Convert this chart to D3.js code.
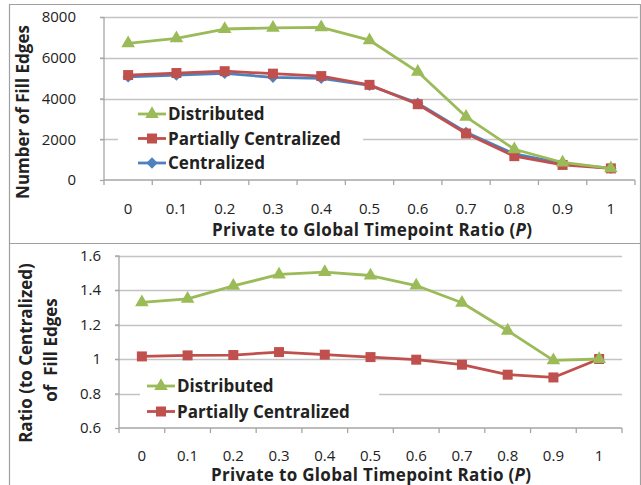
<!doctype html>
<html>
<head>
<meta charset="utf-8">
<script src="https://d3js.org/d3.v7.min.js"></script>
<style>
  body { margin: 0; background: #fff; }
  text { font-family: "Open Sans", sans-serif; fill: #222; }
</style>
</head>
<body>
<div id="chart"></div>
<script>
// categories on the x axis (P)
var ratios = ["0", "0.1", "0.2", "0.3", "0.4", "0.5", "0.6", "0.7", "0.8", "0.9", "1"];

// top panel: number of fill edges
var distributedEdges = [6710, 6950, 7410, 7470, 7490, 6860, 5310, 3100, 1510, 860, 570];
var partialEdges     = [5150, 5250, 5340, 5220, 5100, 4670, 3720, 2280, 1170, 740, 570];
var centralEdges     = [5060, 5150, 5230, 5040, 4990, 4640, 3770, 2340, 1280, 820, 570];
var edgeTicks = [0, 2000, 4000, 6000, 8000];

// bottom panel: ratio to centralized
var distributedRatio = [1.328, 1.349, 1.424, 1.490, 1.504, 1.484, 1.426, 1.326, 1.164, 0.992, 1.0];
var partialRatio     = [1.015, 1.021, 1.023, 1.040, 1.025, 1.011, 0.996, 0.967, 0.909, 0.893, 1.0];
var ratioTicks = [0.6, 0.8, 1, 1.2, 1.4, 1.6];

var green = "#9bbb59", red = "#c0504d", blue = "#4f81bd";
var axisCol = "#a6a6a6", gridCol = "#c4c4c4";

var svg = d3.select("#chart").append("svg")
  .attr("width", 641).attr("height", 485);

// frame
svg.append("path")
  .attr("d", "M9.5,485 V4.5 H640.5 V485 M9.5,243.5 H640.5")
  .attr("fill", "none").attr("stroke", "#a0a0a0").attr("stroke-width", 1.2);

function marker(g, kind, color, x, y) {
  if (kind == "triangle") {
    g.append("path").attr("d", d3.symbol().type(d3.symbolTriangle).size(80)())
      .attr("transform", "translate(" + x + "," + y + ")").attr("fill", color);
  } else if (kind == "square") {
    g.append("rect").attr("x", x - 5).attr("y", y - 5).attr("width", 10).attr("height", 10)
      .attr("fill", color);
  } else {
    g.append("rect").attr("x", -4).attr("y", -4).attr("width", 8).attr("height", 8)
      .attr("transform", "translate(" + x + "," + y + ") rotate(45)").attr("fill", color);
  }
}

function panel(opt) {
  var g = svg.append("g");
  var x = d3.scaleBand().domain(ratios).range(opt.xr);
  var y = d3.scaleLinear().domain(opt.dom).range(opt.yr);

  // gridlines
  g.selectAll(".grid").data(opt.ticks.slice(1)).enter().append("line")
    .attr("x1", opt.xr[0] - 4).attr("x2", opt.gridEnd)
    .attr("y1", function(d) { return Math.round(y(d)) + 0.5; })
    .attr("y2", function(d) { return Math.round(y(d)) + 0.5; })
    .attr("stroke", gridCol).attr("stroke-width", 1.3);

  // y axis
  var yAx = g.append("g").attr("transform", "translate(" + opt.xr[0] + ",0)")
    .call(d3.axisLeft(y).tickValues(opt.ticks).tickSize(4).tickPadding(opt.ypad)
      .tickFormat(function(d) { return d3.format("")(d); }));
  // x axis
  var xAx = g.append("g").attr("transform", "translate(0," + opt.yr[0] + ")")
    .call(d3.axisBottom(x).tickSize(0).tickPadding(opt.xpad));
  [yAx, xAx].forEach(function(a) {
    a.select(".domain").attr("stroke", axisCol).attr("stroke-width", 1.3);
    a.selectAll(".tick line").attr("stroke", axisCol).attr("stroke-width", 1.3);
    a.selectAll("text").style("font-size", "15px").attr("fill", "#333");
  });
  yAx.select(".domain").attr("d", "M0," + opt.yr[1] + "V" + opt.yr[0]);
  xAx.select(".domain").attr("d", "M" + opt.xr[0] + ",0H" + opt.xr[1]);
  // x ticks at category boundaries
  var bounds = ratios.map(function(r) { return x(r); }).concat([opt.xr[1]]);
  xAx.selectAll(".bnd").data(bounds).enter().append("line")
    .attr("x1", function(d) { return d; }).attr("x2", function(d) { return d; })
    .attr("y1", 0).attr("y2", 5).attr("stroke", axisCol).attr("stroke-width", 1.3);

  // legend background
  g.append("rect").attr("x", opt.leg.x).attr("y", opt.leg.y)
    .attr("width", opt.leg.w).attr("height", opt.leg.h).attr("fill", "#fff");

  // series
  opt.series.forEach(function(s) {
    var line = d3.line()
      .x(function(d, i) { return x(ratios[i]) + x.bandwidth() / 2; })
      .y(function(d) { return y(d); });
    g.append("path").datum(s.values).attr("d", line)
      .attr("fill", "none").attr("stroke", s.color).attr("stroke-width", 2.8)
      .attr("stroke-linejoin", "round");
    s.values.forEach(function(v, i) {
      marker(g, s.kind, s.color, x(ratios[i]) + x.bandwidth() / 2, y(v));
    });
  });

  // legend entries
  opt.series.slice().reverse().forEach(function(s, i) {
    var ly = opt.leg.ty + i * opt.leg.gap;
    g.append("line").attr("x1", opt.leg.lx).attr("x2", opt.leg.lx + 28)
      .attr("y1", ly).attr("y2", ly).attr("stroke", s.color).attr("stroke-width", 2.8);
    marker(g, s.kind, s.color, opt.leg.lx + 14, ly);
    g.append("text").attr("x", opt.leg.lx + 30).attr("y", ly + 6)
      .style("font-size", "17px").style("font-weight", "bold").text(s.name);
  });

  // x title
  var xt = g.append("text").attr("x", opt.xtitle[0]).attr("y", opt.xtitle[1])
    .attr("text-anchor", "middle").style("font-size", "17px").style("font-weight", "bold")
    .attr("textLength", 320).attr("lengthAdjust", "spacing");
  xt.append("tspan").text("Private to Global Timepoint Ratio (");
  xt.append("tspan").style("font-style", "italic").text("P");
  xt.append("tspan").text(")");

  // y title
  opt.ytitle.forEach(function(t) {
    g.append("text").attr("transform", "translate(" + t.x + "," + t.y + ") rotate(-90)")
      .attr("text-anchor", "middle").style("font-size", "17px").style("font-weight", "bold")
      .attr("xml:space", "preserve").text(t.text);
  });
}

panel({
  xr: [104, 635], yr: [180, 17], dom: [0, 8000], ticks: edgeTicks, gridEnd: 638,
  ypad: 24, xpad: 23,
  leg: { x: 118, y: 101, w: 245, h: 76, lx: 138, ty: 114, gap: 24.5 },
  series: [
    { name: "Centralized", kind: "diamond", color: blue, values: centralEdges },
    { name: "Partially Centralized", kind: "square", color: red, values: partialEdges },
    { name: "Distributed", kind: "triangle", color: green, values: distributedEdges }
  ],
  xtitle: [372, 236],
  ytitle: [{ x: 29, y: 112, text: "Number of Fill Edges" }]
});

panel({
  xr: [119, 622], yr: [428, 255.5], dom: [0.6, 1.6], ticks: ratioTicks, gridEnd: 622,
  ypad: 14, xpad: 22,
  leg: { x: 140, y: 372, w: 239, h: 52, lx: 147, ty: 386, gap: 25.5 },
  series: [
    { name: "Partially Centralized", kind: "square", color: red, values: partialRatio },
    { name: "Distributed", kind: "triangle", color: green, values: distributedRatio }
  ],
  xtitle: [371, 481],
  ytitle: [{ x: 32, y: 353, text: "Ratio (to Centralized)" },
           { x: 57, y: 350, text: "of  Fill Edges" }]
});
</script>
</body>
</html>
